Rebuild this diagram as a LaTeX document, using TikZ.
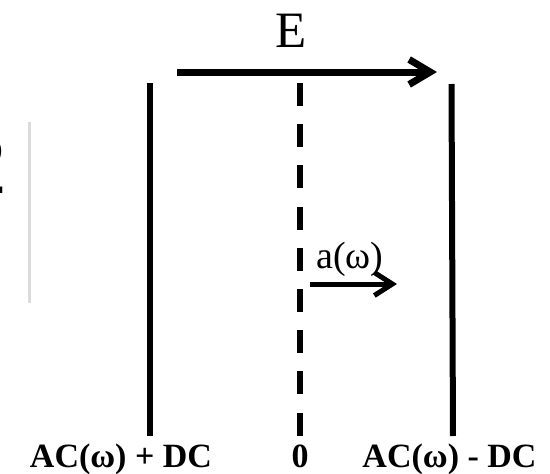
\documentclass[tikz,border=0pt]{standalone}
\usepackage{fontspec}
\setmainfont{Liberation Serif}
\usetikzlibrary{arrows.meta}
\begin{document}
\begin{tikzpicture}[x=1pt,y=-1pt,
  plate/.style={line width=6pt},
  midline/.style={line width=6pt,dash pattern=on 23pt off 18.2pt},
  bigarrow/.style={line width=7pt,-{Straight Barb[length=21pt,width=25pt]}},
  smallarrow/.style={line width=5pt,-{Straight Barb[length=18pt,width=23pt]}},
  bottomlabel/.style={font=\fontsize{34}{34}\selectfont\bfseries,anchor=base,inner sep=0pt},
]
\useasboundingbox (0,0) rectangle (550,474);
% partial glyph at the left edge and thin gray rule
\node[font=\fontsize{86}{86}\selectfont,anchor=base east,inner sep=0pt] (two) at (8,193) {2};
\coordinate (gtop) at (29.5,122);
\coordinate (gbot) at (29.5,303);
\draw[line width=2.5pt,black!14] (gtop) -- (gbot);
% plates
\coordinate (ltop) at (150,83);
\coordinate (lbot) at (150,436);
\coordinate (rtop) at (451.5,84);
\coordinate (rbot) at (453,436);
\draw[plate] (ltop) -- (lbot);
\draw[plate] (rtop) -- (rbot);
% dashed centre line
\coordinate (mtop) at (300,83);
\coordinate (mbot) at (300,436);
\draw[midline] (mtop) -- (mbot);
% field arrow
\coordinate (es) at (177,72);
\coordinate (ee) at (437,72);
\draw[bigarrow] (es) -- (ee);
\node[font=\fontsize{51}{51}\selectfont,anchor=base,inner sep=0pt] (E) at (291.5,47) {E};
% acceleration arrow
\coordinate (as) at (310,284);
\coordinate (ae) at (397,284);
\draw[smallarrow] (as) -- (ae);
\node[font=\fontsize{38}{38}\selectfont,anchor=base,inner sep=0pt] (a) at (350,268) {a(ω)};
% bottom labels
\node[bottomlabel] (lp) at (121,467) {AC(ω) + DC};
\node[bottomlabel] (zero) at (300,467) {0};
\node[bottomlabel] (rp) at (449.5,467) {AC(ω) - DC};
\end{tikzpicture}
\end{document}
